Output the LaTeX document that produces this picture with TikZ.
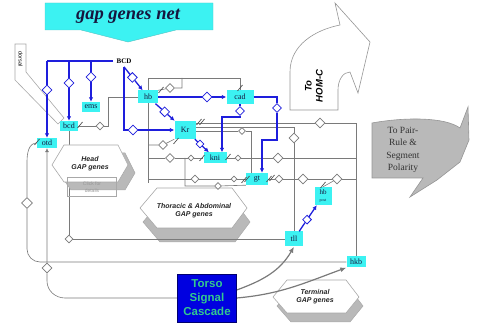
\documentclass[tikz,border=0pt]{standalone}
\usepackage{fontspec}
\setmainfont{Liberation Serif}
\setsansfont{Liberation Sans}
\usetikzlibrary{positioning,arrows.meta,calc,shapes.geometric,backgrounds}
\definecolor{gncyan}{HTML}{3CF2F2}
\definecolor{gnblue}{HTML}{1E1EDC}
\definecolor{gngray}{HTML}{7A7A7A}
\definecolor{gnpale}{HTML}{A8A8A8}
\definecolor{gnshade}{HTML}{B9B9B9}
\definecolor{gnnavy}{HTML}{16163E}
\definecolor{gntorso}{HTML}{0000E0}
\definecolor{gngreen}{HTML}{33C98F}
\tikzset{
  gene/.style  ={fill=gncyan, inner sep=0.8pt, minimum height=10pt, text=gnnavy,
                 font=\fontsize{8}{9}\selectfont},
  bdia/.style  ={diamond, draw=gnblue, fill=white, line width=0.8pt, minimum size=10pt, inner sep=0pt},
  gdia/.style  ={diamond, draw=gngray, fill=white, line width=0.6pt, minimum size=8pt, inner sep=0pt},
  sdia/.style  ={gdia, minimum size=6pt},
  act/.style   ={draw=gnblue, line width=1.3pt, -{Latex[length=4.5pt,width=4.5pt]}},
  bline/.style ={draw=gnblue, line width=1.3pt},
  net/.style   ={draw=gngray, line width=0.6pt},
  inh/.style   ={draw=black!70, line width=0.7pt},
  flow/.style  ={draw=gngray, line width=1.2pt, -{Latex[length=6pt,width=5pt]}},
  block/.style ={draw=gnpale, fill=white, line width=0.6pt},
  depth/.style ={draw=gnpale, fill=gnshade, line width=0.5pt},
  gaplbl/.style={font=\sffamily\bfseries\itshape\fontsize{7}{8}\selectfont, align=center, text=black!85},
}
\newcommand{\inhbar}[2]{\draw[inh] (#1,#2) ++(-2.5,3) -- ++(5,-6);}

\begin{document}
\begin{tikzpicture}[x=1pt,y=-1pt]
\useasboundingbox (0,0) rectangle (480,326);

% title banner
\fill[gncyan, draw=gncyan!60!gray, line width=0.4pt] (45,3) -- (213,3) -- (213,30) -- (176,30)
  -- (128,42) -- (81,30) -- (45,30) -- cycle;
\node[font=\bfseries\itshape\fontsize{18.5}{20}\selectfont, text=gnnavy] (title) at (128,16) {gap genes net};

% genes
\node[gene, minimum width=20pt] (otd) at (47,143) {otd};
\node[gene, minimum width=18pt] (bcd) at (69,126) {bcd};
\node[gene, minimum width=18pt] (ems) at (91,107) {ems};
\node[gene, minimum width=20pt, minimum height=13pt] (hb) at (148,97) {hb};
\node[gene, minimum width=27pt, minimum height=14pt] (cad) at (240,97) {cad};
\node[gene, minimum width=21pt, minimum height=18pt] (Kr) at (185,130) {Kr};
\node[gene, minimum width=23pt, minimum height=11pt] (kni) at (215,158) {kni};
\node[gene, minimum width=22pt, minimum height=12pt] (gt) at (257,179) {gt};
\node[gene, minimum width=17pt, minimum height=18pt, align=center, inner sep=0.3pt] (hbpost) at (323,196)
  {\fontsize{7}{7}\selectfont hb\\[-1.5pt]\fontsize{4}{4}\selectfont post};
\node[gene, minimum width=18pt, minimum height=15pt] (tll) at (294,239) {tll};
\node[gene, minimum width=19pt, minimum height=11pt] (hkb) at (356,262) {hkb};
\node[font=\bfseries\fontsize{7}{8}\selectfont] (BCD) at (124,61) {BCD};

% blue diamonds
\node[bdia] (bdO) at (47,90) {};
\node[bdia] (bdB) at (69,83) {};
\node[bdia] (bdE) at (91,77) {};
\node[bdia] (bdH) at ($(BCD.south)!0.35!(hb)$) {};
\node[bdia] (bdK) at (133,130) {};
\node[bdia] (bdC) at (207,97) {};
\node[bdia] (bdHK) at ($(hb)!0.45!(Kr)$) {};
\node[bdia, minimum size=8pt] (bdKN) at ($(Kr)!0.5!(kni)$) {};
\node[bdia, minimum size=9pt] (bdCK) at (240,111) {};
\node[bdia, minimum size=9pt] (bdCG) at (277,108) {};
\node[bdia, minimum size=9pt] (bdTH) at ($(tll)!0.45!(hbpost)$) {};

% grey diamonds
\node[gdia] (gBC) at (100,126) {};
\node[gdia] (gBT) at (69,239) {};
\node[gdia, minimum size=10pt] (gOT) at (47,268) {};
\node[gdia, minimum size=11pt] (gOD) at (27,203) {};
\node[gdia, minimum size=9pt] (gHB) at (170,88) {};
\node[gdia, minimum size=10pt] (gR1) at (320,123) {};
\node[gdia, minimum size=10pt] (gT1) at (294,138) {};
\node[sdia, minimum size=7pt] (gK2) at (242,131) {};
\node[gdia, minimum size=9pt] (gK3) at (163,145) {};
\node[gdia, minimum size=9pt] (gN1) at (170,158) {};
\node[sdia] (gN2) at (191,158) {};
\node[sdia] (gN3) at (238,158) {};
\node[gdia, minimum size=10pt] (gN4) at (278,158) {};
\node[gdia] (gG1) at (195,179) {};
\node[sdia] (gG2) at (234,179) {};
\node[gdia] (gG3) at (279,179) {};
\node[gdia, minimum size=10pt] (gG4) at (303,179) {};
\node[gdia, minimum size=10pt] (gG5) at (337,179) {};
\node[sdia, minimum size=7pt] (gL1) at (218,186) {};

% blue activations
\draw[bline] (BCD.west) -- (47,61);
\draw[act] (47,61) -- (bdO) -- (otd);
\draw[act] (69,61) -- (bdB) -- (bcd);
\draw[act] (91,61) -- (bdE) -- (ems);
\draw[act] (BCD.south) -- (bdH) -- (hb);
\draw[act] (BCD.south) -- (124,130) -- (bdK) -- (Kr);
\draw[act] (hb) -- (bdC) -- (cad);
\draw[act] (hb) -- (bdHK) -- (Kr);
\draw[act] (Kr) -- (bdKN) -- (kni);
\draw[act] (cad.south) -- (bdCK) -- (240,117) -| ($(kni.north)+(7,0)$);
\draw[act] (cad.east) -- (277,97) -- (bdCG) -- (277,140) -| ($(gt.north)+(5,0)$);
\draw[act] (tll) -- (bdTH) -- (hbpost);

% repression bars
\inhbar{37}{142} \inhbar{80}{125} \inhbar{161}{90} \inhbar{240}{88}
\inhbar{199}{122} \inhbar{202}{122} \inhbar{176}{141}
\inhbar{202}{158} \inhbar{228}{157}
\inhbar{244}{180} \inhbar{247}{179} \inhbar{269}{179} \inhbar{272}{178}
\inhbar{323}{185}

% head gap genes block
\draw[depth, shift={(7,8)}] (52,165) -- (64,145) -- (118,145) -- (128,165) -- (118,182) -- (64,182) -- cycle;
\draw[block] (52,165) -- (64,145) -- (118,145) -- (128,165) -- (118,182) -- (64,182) -- cycle;
\node[gaplbl] (headtxt) at (90,164) {Head\\GAP genes};
\node[draw=gnpale, minimum width=49pt, minimum height=19pt, align=center, text=gnpale!90!black,
      font=\sffamily\fontsize{5}{6.5}\selectfont] (click) at (92,187) {Click for\\details};

% torso
\node[draw=gntorso!50!black, fill=gntorso, minimum width=59pt, minimum height=48pt, align=center,
      text=gngreen, font=\sffamily\bfseries\fontsize{11.5}{14}\selectfont] (torso) at (207,298)
      {Torso\\Signal\\Cascade};

\begin{scope}[on background layer]
  % thoracic & terminal blocks
  \draw[depth, shift={(3,14)}] (140,208) -- (157,188) -- (232,188) -- (247,208) -- (232,228) -- (157,228) -- cycle;
  \draw[block] (140,208) -- (157,188) -- (232,188) -- (247,208) -- (232,228) -- (157,228) -- cycle;
  \node[gaplbl] (thortxt) at (194,211) {Thoracic \& Abdominal\\GAP genes};
  \draw[depth, shift={(4,9)}] (273,297) -- (287,280) -- (346,280) -- (359,297) -- (346,313) -- (287,313) -- cycle;
  \draw[block] (273,297) -- (287,280) -- (346,280) -- (359,297) -- (346,313) -- (287,313) -- cycle;
  \node[gaplbl] (termtxt) at (315,297) {Terminal\\GAP genes};
  % outputs
  \draw[block, draw=gngray!80] (290,110) -- (290,72) .. controls (290,45) and (315,30) .. (340,25) -- (335,3)
    -- (370,42) -- (358,93) -- (350,72) .. controls (343,72) and (338,80) .. (338,90) -- (338,110) -- cycle;
  \node[rotate=90, align=center, font=\sffamily\bfseries\itshape\fontsize{9.5}{11}\selectfont] (homc) at (314,86) {To\\HOM-C};
  \draw[fill=gnshade, draw=gngray!80, line width=0.6pt] (372,123) .. controls (405,117) and (445,117) .. (460,128)
    -- (468,107) -- (469,140) -- (460,162) -- (437,180) -- (410,197) -- (423,178) -- (372,178) -- cycle;
  \node[align=center, text=black!80, font=\fontsize{9.5}{12.5}\selectfont] (pairtxt) at (403,150)
    {To Pair-\\Rule \&\\Segment\\Polarity};
  % dorsal input
  \draw[block] (15,44) -- (26,44) -- (26,72) -- (64,118) -- (58,124) -- (15,80) -- cycle;
  \node[rotate=-90, font=\sffamily\fontsize{5.5}{6}\selectfont] (dorsal) at (20.5,59) {dorsal};
  % grey regulatory network
  \draw[net] (148,183) |- (240,78) -- (cad.north);
  \draw[net] (182,78) -- (182,88) -- (gHB) -- (hb.north east);
  \draw[net] (bcd.east) -- (gBC) -- (108,126) |- (hb.west);
  \draw[net] (bcd.south) -- (gBT) -- (tll.west);
  \draw[net, -{Latex[length=4pt,width=4pt]}] (torso.west) -- (65,298) to[out=180,in=270] (47,281)
    -- (gOT) -- (otd.south);
  \draw[net] (hkb.west) -- (40,262) to[out=180,in=270] (27,249) -- (gOD) -- (27,162)
    to[out=90,in=180] (otd.west);
  \draw[net] ($(Kr.east)+(0,-7)$) -- (gR1) -- (356,123) -- (hkb.north);
  \draw[net] ($(Kr.east)+(0,-3)$) -- (294,127) -- (gT1) -- (tll.north);
  \draw[net] ($(Kr.east)+(0,1)$) -- (gK2) -- (251,131) -- ($(gt.north)+(-6,0)$);
  \draw[net] (148,145) -- (gK3) -- (Kr.south west);
  \draw[net] (148,158) -- (gN1) -- (gN2) -- (kni.west);
  \draw[net] (kni.east) -- (gN3) -- (gN4) -- (356,158);
  \draw[net] (148,179) -- (gG1) -- (gG2) -- (gt.west);
  \draw[net] (gt.east) -- (gG3) -- (gG4) -- (gG5) -- (356,179);
  \draw[net] (gG5) -- (hbpost.north);
  \draw[net] (185,158) -- (185,186) -- (gL1) -- (gt.south west);
  % torso signalling
  \draw[flow] ($(torso.east)+(0,-8)$) to[out=20,in=240] (tll.south);
  \draw[flow] (torso.east) to[out=5,in=200] (hkb.south west);
\end{scope}
\end{tikzpicture}
\end{document}
